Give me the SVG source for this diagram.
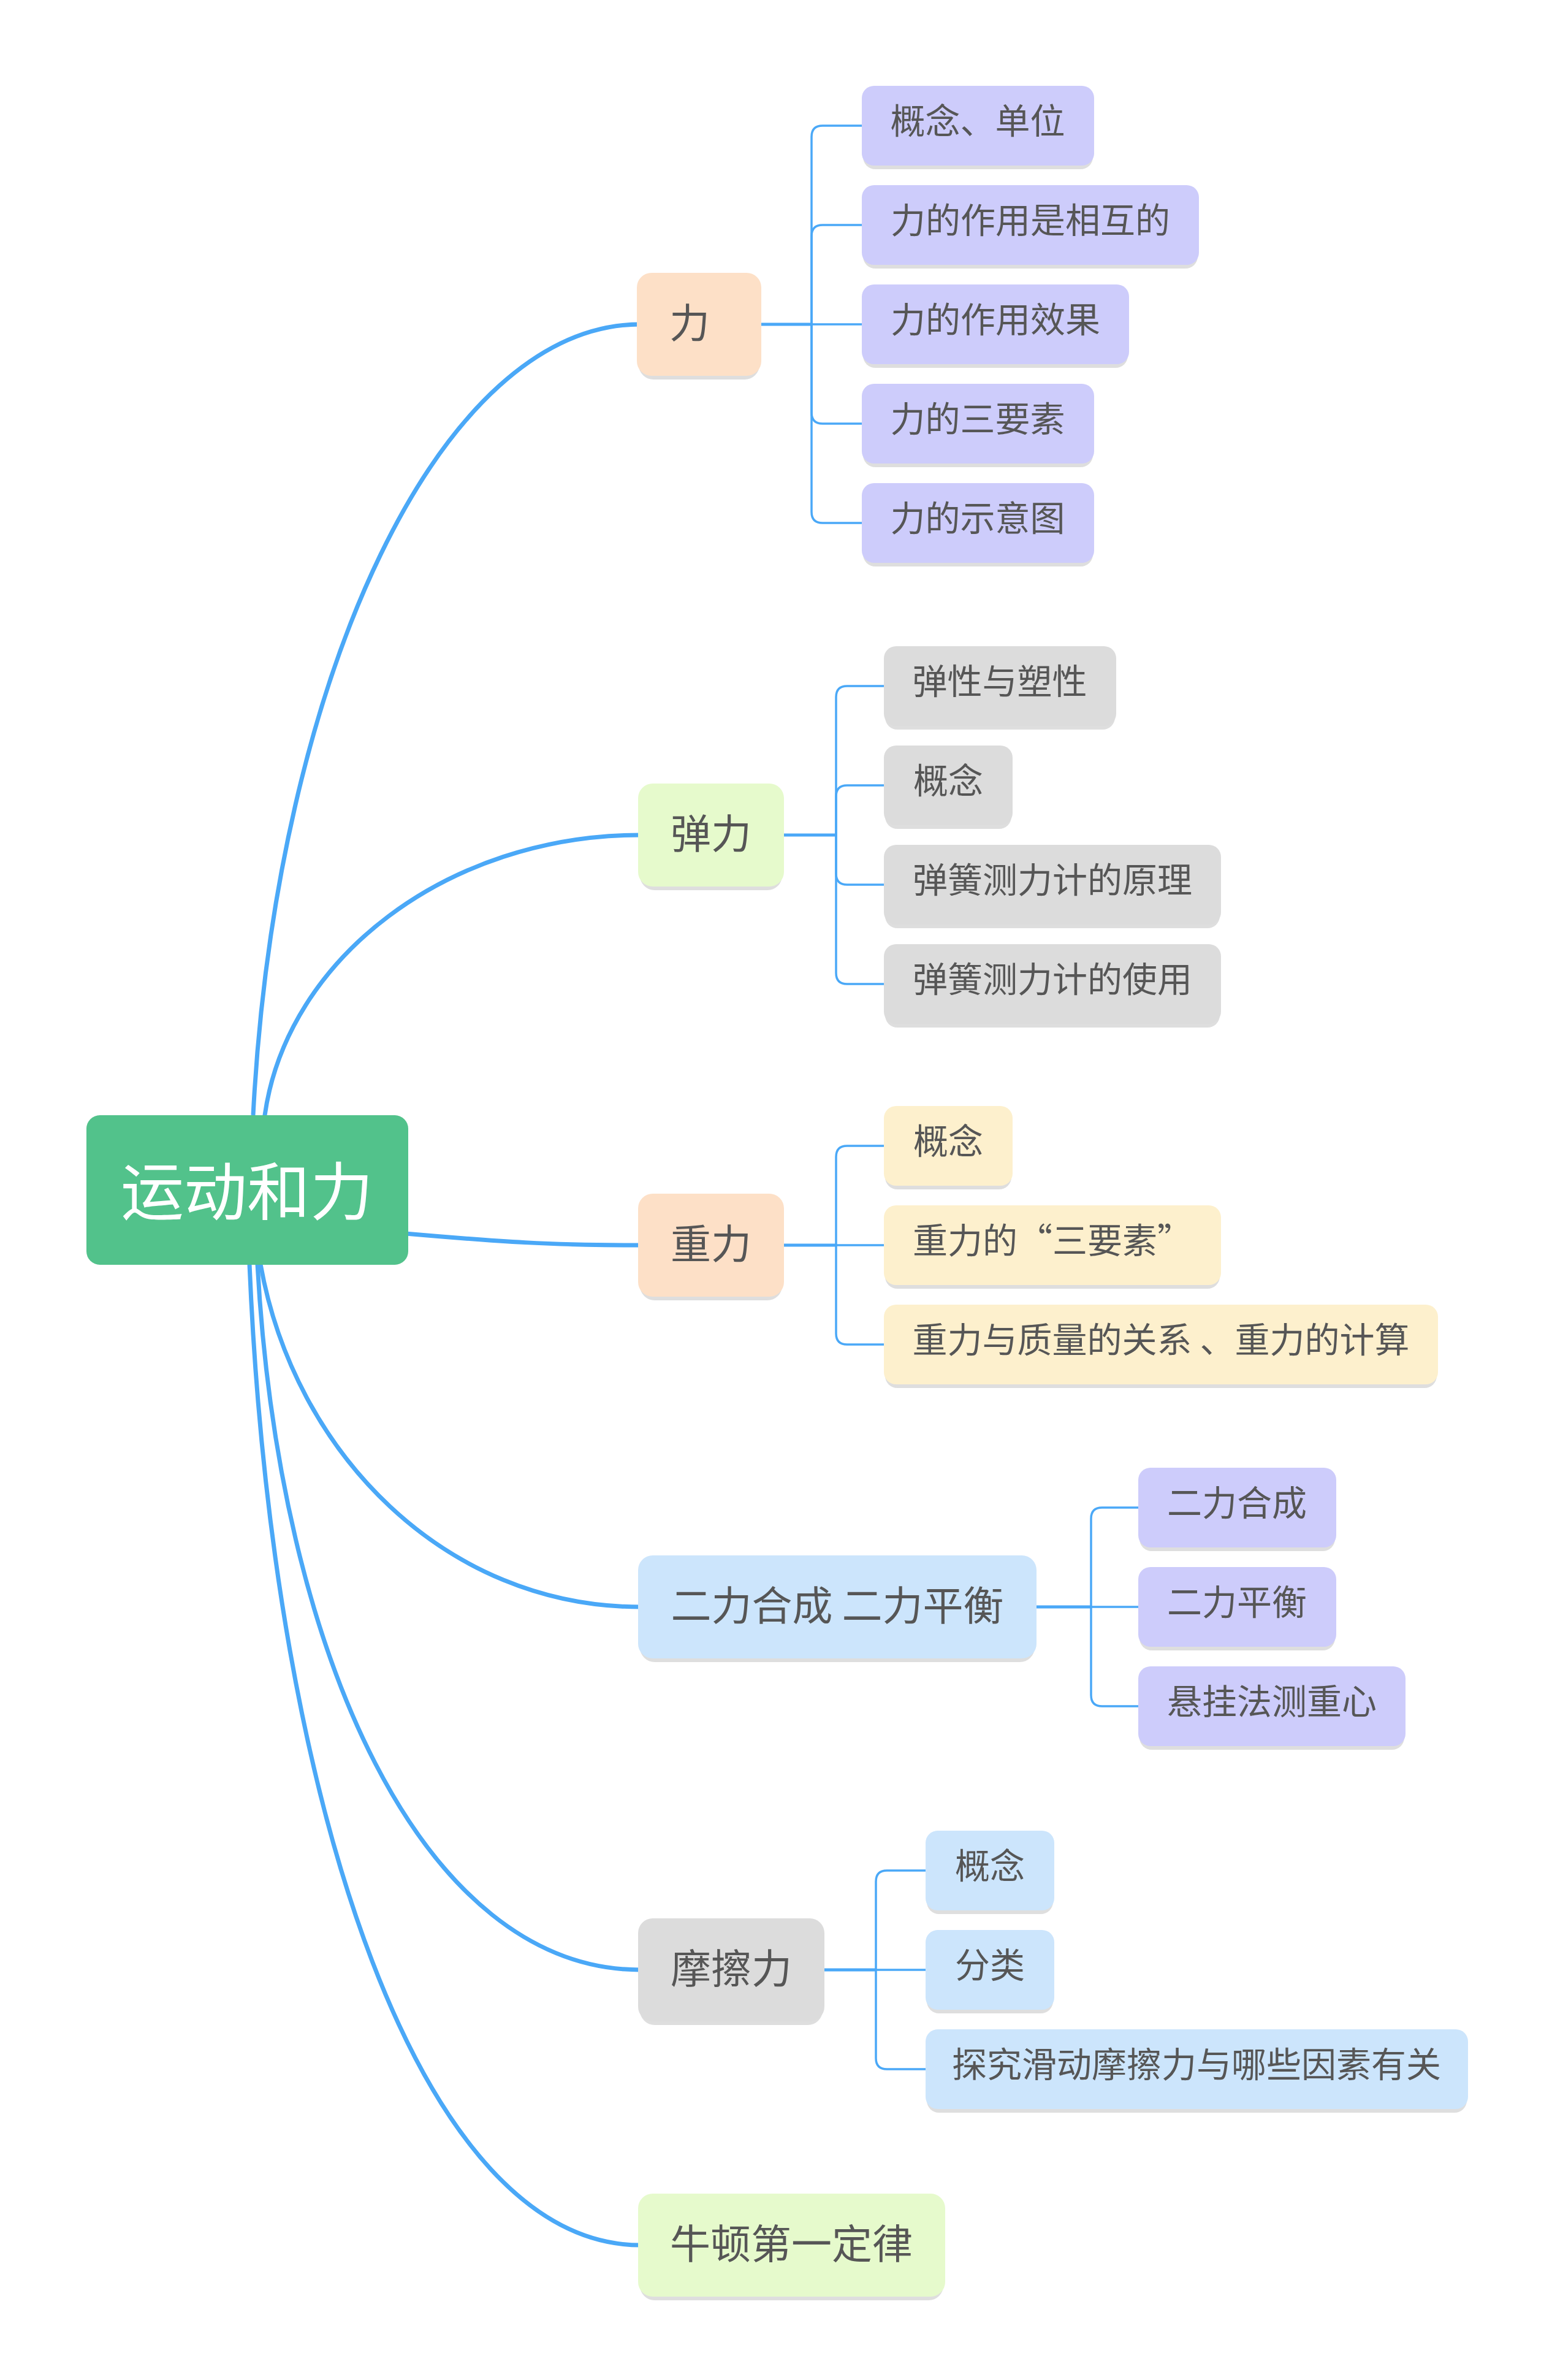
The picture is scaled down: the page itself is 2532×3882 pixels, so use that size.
<svg xmlns="http://www.w3.org/2000/svg" width="2532" height="3882" viewBox="0 0 2532 3882">
<style>
.bg{fill:#ffffff}
.br{fill:none;stroke:#4AA8F7;stroke-width:7;stroke-linecap:round}
.ps{fill:none;stroke:#4AA8F7;stroke-width:5}
.cc{fill:none;stroke:#4AA8F7;stroke-width:3.5}
.sh{fill:#DEDEDE}
.t{font-family:"Noto Sans CJK SC","Noto Sans",sans-serif;fill:#565656;text-anchor:middle}
.tm{font-size:66px}
.tc{font-size:57px}
.root{fill:#52C28B}
.rt{font-family:"Noto Sans CJK SC","Noto Sans",sans-serif;font-size:103px;fill:#ffffff;text-anchor:middle}
.peach{fill:#FDE0C7}
.green{fill:#E6FACC}
.blue{fill:#CCE5FC}
.grey{fill:#DCDCDC}
.lav{fill:#CDCCFB}
.yel{fill:#FDF0CD}
</style>
<rect class="bg" x="0" y="0" width="2532" height="3882"/>
<g id="connectors">
<path class="br" d="M411,1840 L413,1819 C450,1100 720,529 1045,529"/>
<path class="br" d="M430,1840 L432,1819 C468,1563 730,1362 1045,1362"/>
<path class="br" d="M620,2009 L650,2011 C820,2026 900,2031 1045,2031"/>
<path class="br" d="M424,2040 L425,2062 C480,2370 726,2621 1045,2621"/>
<path class="br" d="M419,2040 L420,2062 C455,2700 690,3213 1045,3213"/>
<path class="br" d="M406,2040 L407,2062 C445,2960 690,3662 1045,3662"/>
<path class="ps" d="M1242,529 H1324"/>
<path class="cc" d="M1324,529 V223 Q1324,205 1342,205 H1410"/>
<path class="cc" d="M1324,529 V385 Q1324,367 1342,367 H1410"/>
<path class="cc" d="M1324,529 H1410"/>
<path class="cc" d="M1324,529 V673 Q1324,691 1342,691 H1410"/>
<path class="cc" d="M1324,529 V835 Q1324,853 1342,853 H1410"/>
<path class="ps" d="M1279,1362 H1364"/>
<path class="cc" d="M1364,1362 V1137 Q1364,1119 1382,1119 H1446"/>
<path class="cc" d="M1364,1362 V1299 Q1364,1281 1382,1281 H1446"/>
<path class="cc" d="M1364,1362 V1425 Q1364,1443 1382,1443 H1446"/>
<path class="cc" d="M1364,1362 V1587 Q1364,1605 1382,1605 H1446"/>
<path class="ps" d="M1279,2031 H1364"/>
<path class="cc" d="M1364,2031 V1887 Q1364,1869 1382,1869 H1446"/>
<path class="cc" d="M1364,2031 H1446"/>
<path class="cc" d="M1364,2031 V2175 Q1364,2193 1382,2193 H1446"/>
<path class="ps" d="M1691,2621 H1780"/>
<path class="cc" d="M1780,2621 V2477 Q1780,2459 1798,2459 H1861"/>
<path class="cc" d="M1780,2621 H1861"/>
<path class="cc" d="M1780,2621 V2765 Q1780,2783 1798,2783 H1861"/>
<path class="ps" d="M1345,3213 H1429"/>
<path class="cc" d="M1429,3213 V3069 Q1429,3051 1447,3051 H1514"/>
<path class="cc" d="M1429,3213 H1514"/>
<path class="cc" d="M1429,3213 V3357 Q1429,3375 1447,3375 H1514"/>
</g>
<g id="root">
<rect class="root" x="141" y="1819" width="525" height="244" rx="22"/>
<text class="rt" x="403" y="1982">运动和力</text>
</g>
<g id="n-li">
<rect class="sh" x="1042" y="451" width="197" height="168" rx="24"/>
<rect class="peach" x="1039" y="445" width="203" height="168" rx="24"/>
<text class="t tm" x="1125" y="551">力</text>
</g>
<g id="n-li-1"><rect class="sh" x="1408" y="146" width="375" height="130" rx="20"/><rect class="lav" x="1406" y="140" width="379" height="130" rx="20"/><text class="t tc" x="1595" y="218">概念、单位</text></g>
<g id="n-li-2"><rect class="sh" x="1408" y="308" width="546" height="130" rx="20"/><rect class="lav" x="1406" y="302" width="550" height="130" rx="20"/><text class="t tc" x="1681" y="380">力的作用是相互的</text></g>
<g id="n-li-3"><rect class="sh" x="1408" y="470" width="432" height="130" rx="20"/><rect class="lav" x="1406" y="464" width="436" height="130" rx="20"/><text class="t tc" x="1624" y="542">力的作用效果</text></g>
<g id="n-li-4"><rect class="sh" x="1408" y="632" width="375" height="130" rx="20"/><rect class="lav" x="1406" y="626" width="379" height="130" rx="20"/><text class="t tc" x="1595" y="704">力的三要素</text></g>
<g id="n-li-5"><rect class="sh" x="1408" y="794" width="375" height="130" rx="20"/><rect class="lav" x="1406" y="788" width="379" height="130" rx="20"/><text class="t tc" x="1595" y="866">力的示意图</text></g>
<g id="n-tanli">
<rect class="sh" x="1044" y="1284" width="232" height="168" rx="24"/>
<rect class="green" x="1041" y="1278" width="238" height="168" rx="24"/>
<text class="t tm" x="1160" y="1384">弹力</text>
</g>
<g id="n-tanli-1"><rect class="sh" x="1444" y="1060" width="375" height="130" rx="20"/><rect class="grey" x="1442" y="1054" width="379" height="130" rx="20"/><text class="t tc" x="1631" y="1132">弹性与塑性</text></g>
<g id="n-tanli-2"><rect class="sh" x="1444" y="1222" width="206" height="130" rx="20"/><rect class="grey" x="1442" y="1216" width="210" height="130" rx="20"/><text class="t tc" x="1547" y="1294">概念</text></g>
<g id="n-tanli-3"><rect class="sh" x="1444" y="1384" width="546" height="130" rx="20"/><rect class="grey" x="1442" y="1378" width="550" height="130" rx="20"/><text class="t tc" x="1717" y="1456">弹簧测力计的原理</text></g>
<g id="n-tanli-4"><rect class="sh" x="1444" y="1546" width="546" height="130" rx="20"/><rect class="grey" x="1442" y="1540" width="550" height="130" rx="20"/><text class="t tc" x="1717" y="1618">弹簧测力计的使用</text></g>
<g id="n-zhongli">
<rect class="sh" x="1044" y="1953" width="232" height="168" rx="24"/>
<rect class="peach" x="1041" y="1947" width="238" height="168" rx="24"/>
<text class="t tm" x="1160" y="2053">重力</text>
</g>
<g id="n-zhongli-1"><rect class="sh" x="1444" y="1810" width="206" height="130" rx="20"/><rect class="yel" x="1442" y="1804" width="210" height="130" rx="20"/><text class="t tc" x="1547" y="1882">概念</text></g>
<g id="n-zhongli-2"><rect class="sh" x="1444" y="1972" width="546" height="130" rx="20"/><rect class="yel" x="1442" y="1966" width="550" height="130" rx="20"/><text class="t tc" x="1717" y="2044">重力的“三要素”</text></g>
<g id="n-zhongli-3"><rect class="sh" x="1444" y="2134" width="900" height="130" rx="20"/><rect class="yel" x="1442" y="2128" width="904" height="130" rx="20"/><text class="t tc" x="1894" y="2206">重力与质量的关系 、重力的计算</text></g>
<g id="n-erli">
<rect class="sh" x="1044" y="2543" width="644" height="168" rx="24"/>
<rect class="blue" x="1041" y="2537" width="650" height="168" rx="24"/>
<text class="t tm" x="1366" y="2643">二力合成 二力平衡</text>
</g>
<g id="n-erli-1"><rect class="sh" x="1859" y="2400" width="319" height="130" rx="20"/><rect class="lav" x="1857" y="2394" width="323" height="130" rx="20"/><text class="t tc" x="2018" y="2472">二力合成</text></g>
<g id="n-erli-2"><rect class="sh" x="1859" y="2562" width="319" height="130" rx="20"/><rect class="lav" x="1857" y="2556" width="323" height="130" rx="20"/><text class="t tc" x="2018" y="2634">二力平衡</text></g>
<g id="n-erli-3"><rect class="sh" x="1859" y="2724" width="432" height="130" rx="20"/><rect class="lav" x="1857" y="2718" width="436" height="130" rx="20"/><text class="t tc" x="2075" y="2796">悬挂法测重心</text></g>
<g id="n-moca">
<rect class="sh" x="1044" y="3135" width="298" height="168" rx="24"/>
<rect class="grey" x="1041" y="3129" width="304" height="168" rx="24"/>
<text class="t tm" x="1193" y="3235">摩擦力</text>
</g>
<g id="n-moca-1"><rect class="sh" x="1512" y="2992" width="206" height="130" rx="20"/><rect class="blue" x="1510" y="2986" width="210" height="130" rx="20"/><text class="t tc" x="1615" y="3064">概念</text></g>
<g id="n-moca-2"><rect class="sh" x="1512" y="3154" width="206" height="130" rx="20"/><rect class="blue" x="1510" y="3148" width="210" height="130" rx="20"/><text class="t tc" x="1615" y="3226">分类</text></g>
<g id="n-moca-3"><rect class="sh" x="1512" y="3316" width="881" height="130" rx="20"/><rect class="blue" x="1510" y="3310" width="885" height="130" rx="20"/><text class="t tc" x="1952" y="3388">探究滑动摩擦力与哪些因素有关</text></g>
<g id="n-niudun">
<rect class="sh" x="1044" y="3584" width="495" height="168" rx="24"/>
<rect class="green" x="1041" y="3578" width="501" height="168" rx="24"/>
<text class="t tm" x="1291" y="3684">牛顿第一定律</text>
</g>
</svg>
